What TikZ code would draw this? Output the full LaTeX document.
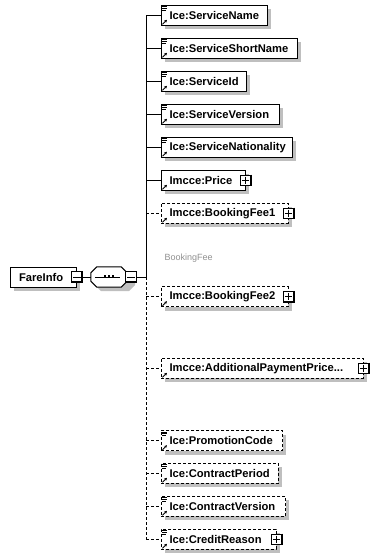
\documentclass[tikz,border=0pt]{standalone}
\usepackage{fontspec}
\setmainfont{Liberation Sans}
\usetikzlibrary{positioning,arrows.meta}

% Define colours
\colorlet{shadowGrey}{black!25}
\definecolor{labelGrey}{HTML}{909090}

\begin{document}
\begin{tikzpicture}[x=1pt, y=-1pt,
    elemBox/.style={draw=black, fill=white, line width=1pt, anchor=west,
        minimum height=20pt, inner xsep=8.5pt, inner ysep=0pt, align=left,
        font=\bfseries\fontsize{11.2}{13}\selectfont},
    optBox/.style={elemBox, dash pattern=on 3pt off 2pt},
    signBox/.style={draw=black, fill=white, line width=1pt, minimum size=10.5pt, inner sep=0pt},
    seqBox/.style={minimum width=36pt, minimum height=20pt, inner sep=0pt},
    shadowFill/.style={fill=shadowGrey, draw=none},
    branch/.style={line width=1pt},
    optBranch/.style={line width=1pt, dash pattern=on 3pt off 2pt},
    feeLabel/.style={text=labelGrey, font=\fontsize{9}{10}\selectfont, anchor=west, inner sep=0pt}
]
    % Fix the canvas
    \useasboundingbox (0,0) rectangle (376,559);

    % Define x of the trunk
    \def\trunkX{146}

    % Draw the root element and the sequence compositor
    \path[shadowFill] (14,271) rectangle (80,291);
    \node[elemBox, text width=49pt] (fare) at (10,277) {FareInfo};
    \node[signBox] (fare-minus) at (fare.east) {};
    \node[seqBox] (seq) at (109,277) {};
    \path[shadowFill] (101,271) -- (129,271) -- (135,277) -- (135,285) -- (129,291)
        -- (101,291) -- (95,285) -- (95,277) -- cycle;
    \filldraw[fill=white, line width=1pt] ([xshift=6pt]seq.north west) -- ([xshift=-6pt]seq.north east)
        -- ([yshift=-6pt]seq.north east) -- ([yshift=6pt]seq.south east) -- ([xshift=-6pt]seq.south east)
        -- ([xshift=6pt]seq.south west) -- ([yshift=6pt]seq.south west) -- ([yshift=-6pt]seq.north west) -- cycle;
    \node[signBox] (seq-minus) at ([xshift=4pt]seq.east) {};
    \draw[line width=1pt] ([xshift=4pt]seq.west) -- ([xshift=-7pt]seq.east);
    \foreach \dx in {-5,-1,3}
        \fill ([xshift=\dx pt]seq.center) rectangle +(2,-2.2);
    \coordinate (join) at (\trunkX,277);
    \draw[branch] (fare-minus.east) -- (seq.west);
    \draw[branch] (seq-minus.east) -- (join);

    % Draw mandatory child elements
    \foreach \n/\lbl/\y/\w [evaluate=\w as \tw using \w-17] in {
            sname/Ice:ServiceName/15.3/106.4,
            sshort/Ice:ServiceShortName/48.3/136,
            sid/Ice:ServiceId/81.3/85,
            sver/Ice:ServiceVersion/114.3/118,
            snat/Ice:ServiceNationality/147.2/131,
            price/Imcce:Price/180.3/84} {
        \path[shadowFill] (164.5,\y-6) rectangle +(\w,20);
        \node[elemBox, text width=\tw pt] (\n) at (160.5,\y) {\lbl};
        \coordinate (b-\n) at (\trunkX,\y);
        \draw[branch] (b-\n) -- (\n.west);
    }

    % Draw optional child elements
    \foreach \n/\lbl/\y/\w [evaluate=\w as \tw using \w-17] in {
            feeone/Imcce:BookingFee1/213.3/127,
            feetwo/Imcce:BookingFee2/296.7/127,
            addpay/{Imcce:AdditionalPaymentPrice.{}.{}.}/368.3/202,
            promo/Ice:PromotionCode/440.7/121.7,
            cperiod/Ice:ContractPeriod/473.3/117.4,
            cver/Ice:ContractVersion/506.3/124.7,
            credit/Ice:CreditReason/539.3/115} {
        \path[shadowFill] (164.5,\y-6) rectangle +(\w,20);
        \node[optBox, text width=\tw pt] (\n) at (160.5,\y) {\lbl};
        \coordinate (b-\n) at (\trunkX,\y);
        \draw[optBranch] (b-\n) -- (\n.west);
    }

    % Draw the trunk
    \draw[branch] (b-sname) -- (join);
    \draw[optBranch] (join) -- (b-credit);

    % Group label
    \node[feeLabel] (feelbl) at (164.5,257.7) {BookingFee};

    % Simple content marks
    \foreach \n in {sname,sshort,sid,sver,snat,promo,cperiod,cver,credit}
        \foreach \dy/\len in {1.8/4.5,3.6/4.5,5.4/3.5}
            \draw[line width=0.8pt] ([shift={(1.8,\dy)}]\n.north west) -- +(\len,0);

    % Reference arrows
    \foreach \n in {sname,sshort,sid,sver,snat,price,feeone,feetwo,addpay,promo,cperiod,cver,credit}
        \draw[line width=0.8pt, -{Stealth[length=2.8pt,width=2.8pt]}]
            ([shift={(2,-1.5)}]\n.south west) -- ([shift={(6.5,-6)}]\n.south west);

    % Expand and collapse buttons
    \foreach \n in {price,feeone,feetwo,addpay,credit} {
        \node[signBox] (\n-plus) at (\n.east) {};
        \draw[line width=0.9pt] ([xshift=2pt]\n-plus.west) -- ([xshift=-2pt]\n-plus.east)
            ([yshift=-2pt]\n-plus.north) -- ([yshift=2pt]\n-plus.south);
    }
    \foreach \n in {fare-minus,seq-minus,price-plus,feeone-plus,feetwo-plus,addpay-plus,credit-plus}
        \draw[line width=1.8pt] ([shift={(-0.5,0)}]\n.north east) -- ([shift={(-0.5,-0.5)}]\n.south east)
            -- ([shift={(0,-0.5)}]\n.south west);
    \foreach \n in {fare-minus,seq-minus}
        \draw[line width=0.9pt] ([xshift=2pt]\n.west) -- ([xshift=-2pt]\n.east);

\end{tikzpicture}
\end{document}
